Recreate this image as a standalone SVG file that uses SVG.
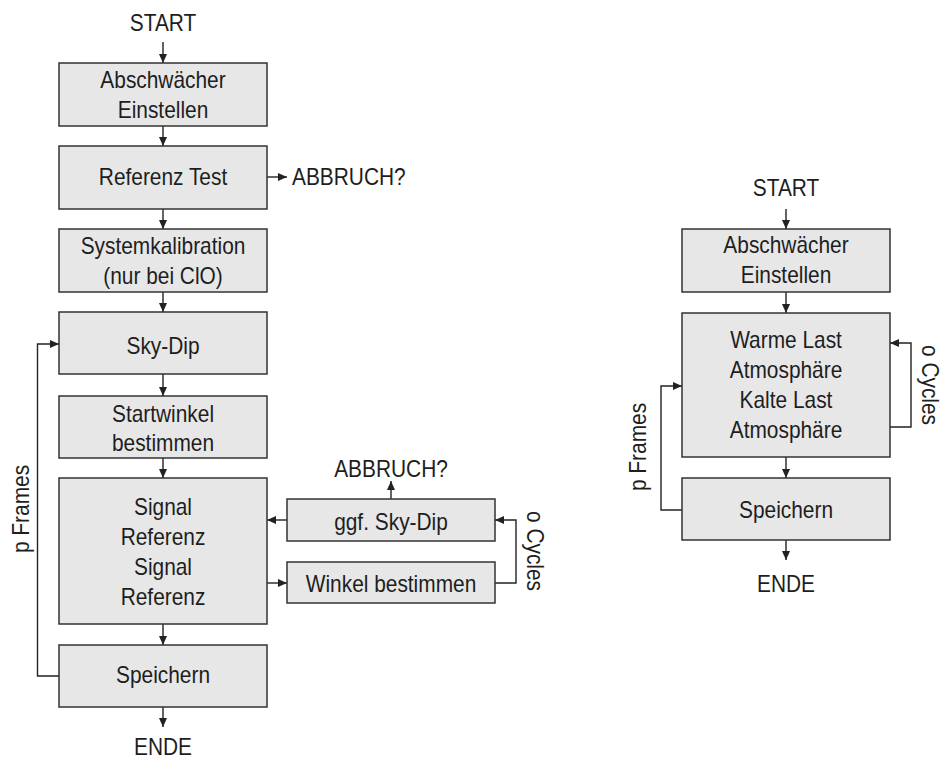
<svg xmlns="http://www.w3.org/2000/svg" width="942" height="760" viewBox="0 0 942 760">
<defs>
<style>
.box{fill:#e7e7e7;stroke:#333;stroke-width:1.5}
.ln{fill:none;stroke:#222;stroke-width:1.4}
text{font-family:"Liberation Sans",Arial,sans-serif;font-size:24px;fill:#1e1e1e;text-anchor:middle}
.st{text-anchor:start}
</style>
<marker id="ah" markerUnits="userSpaceOnUse" markerWidth="10" markerHeight="8" refX="9" refY="4" orient="auto">
<path d="M0,0 L9,4 L0,8 z" fill="#222"/>
</marker>
</defs>
<rect width="942" height="760" fill="#fff"/>

<g id="connectors">
<line class="ln" x1="163" y1="42" x2="163" y2="63" marker-end="url(#ah)"/>
<line class="ln" x1="163" y1="126" x2="163" y2="146" marker-end="url(#ah)"/>
<line class="ln" x1="267" y1="177" x2="287" y2="177" marker-end="url(#ah)"/>
<line class="ln" x1="163" y1="209" x2="163" y2="229" marker-end="url(#ah)"/>
<line class="ln" x1="163" y1="292" x2="163" y2="312" marker-end="url(#ah)"/>
<line class="ln" x1="163" y1="374" x2="163" y2="396" marker-end="url(#ah)"/>
<line class="ln" x1="163" y1="458" x2="163" y2="478" marker-end="url(#ah)"/>
<line class="ln" x1="163" y1="624" x2="163" y2="645" marker-end="url(#ah)"/>
<line class="ln" x1="163" y1="707" x2="163" y2="727" marker-end="url(#ah)"/>
<polyline class="ln" points="59,676 37.5,676 37.5,344 59,344" marker-end="url(#ah)"/>
<line class="ln" x1="287" y1="520" x2="267" y2="520" marker-end="url(#ah)"/>
<line class="ln" x1="267" y1="583" x2="287" y2="583" marker-end="url(#ah)"/>
<polyline class="ln" points="495,583 516,583 516,520 495,520" marker-end="url(#ah)"/>
<line class="ln" x1="391" y1="499" x2="391" y2="481" marker-end="url(#ah)"/>

<line class="ln" x1="786" y1="209" x2="786" y2="229" marker-end="url(#ah)"/>
<line class="ln" x1="786" y1="292" x2="786" y2="313" marker-end="url(#ah)"/>
<line class="ln" x1="786" y1="457" x2="786" y2="478" marker-end="url(#ah)"/>
<line class="ln" x1="786" y1="540" x2="786" y2="560" marker-end="url(#ah)"/>
<polyline class="ln" points="890,427 911,427 911,343 890,343" marker-end="url(#ah)"/>
<polyline class="ln" points="682,510 661,510 661,386 682,386" marker-end="url(#ah)"/>
</g>

<g id="labels">
<text transform="translate(163,31) scale(0.87,1)">START</text>
<text class="st" transform="translate(292,185) scale(0.87,1)">ABBRUCH?</text>
<text transform="translate(163,755) scale(0.87,1)">ENDE</text>
<text transform="translate(28.5,509) rotate(-90) scale(0.87,1)">p Frames</text>
<text transform="translate(391,477) scale(0.87,1)">ABBRUCH?</text>
<text transform="translate(527,551) rotate(90) scale(0.87,1)">o Cycles</text>
<text transform="translate(786,196) scale(0.87,1)">START</text>
<text transform="translate(786,592) scale(0.87,1)">ENDE</text>
<text transform="translate(646,447) rotate(-90) scale(0.87,1)">p Frames</text>
<text transform="translate(922,385) rotate(90) scale(0.87,1)">o Cycles</text>
</g>

<g id="l-abschwaecher">
<rect class="box" x="59" y="63" width="208" height="63"/>
<text transform="translate(163,88) scale(0.87,1)">Abschwächer</text>
<text transform="translate(163,118) scale(0.87,1)">Einstellen</text>
</g>
<g id="l-referenztest">
<rect class="box" x="59" y="146" width="208" height="63"/>
<text transform="translate(163,185) scale(0.87,1)">Referenz Test</text>
</g>
<g id="l-systemkalibration">
<rect class="box" x="59" y="229" width="208" height="63"/>
<text transform="translate(163,254) scale(0.87,1)">Systemkalibration</text>
<text transform="translate(163,284) scale(0.87,1)">(nur bei ClO)</text>
</g>
<g id="l-skydip">
<rect class="box" x="59" y="312" width="208" height="62"/>
<text transform="translate(163,354) scale(0.87,1)">Sky-Dip</text>
</g>
<g id="l-startwinkel">
<rect class="box" x="59" y="396" width="208" height="62"/>
<text transform="translate(163,422) scale(0.87,1)">Startwinkel</text>
<text transform="translate(163,451) scale(0.87,1)">bestimmen</text>
</g>
<g id="l-signal">
<rect class="box" x="59" y="478" width="208" height="146"/>
<text transform="translate(163,515) scale(0.87,1)">Signal</text>
<text transform="translate(163,545) scale(0.87,1)">Referenz</text>
<text transform="translate(163,575) scale(0.87,1)">Signal</text>
<text transform="translate(163,605) scale(0.87,1)">Referenz</text>
</g>
<g id="l-speichern">
<rect class="box" x="59" y="645" width="208" height="62"/>
<text transform="translate(163,683) scale(0.87,1)">Speichern</text>
</g>
<g id="l-ggfskydip">
<rect class="box" x="287" y="499" width="208" height="42"/>
<text transform="translate(391,530) scale(0.87,1)">ggf. Sky-Dip</text>
</g>
<g id="l-winkel">
<rect class="box" x="287" y="562" width="208" height="41"/>
<text transform="translate(391,592) scale(0.87,1)">Winkel bestimmen</text>
</g>

<g id="r-abschwaecher">
<rect class="box" x="682" y="229" width="208" height="63"/>
<text transform="translate(786,253) scale(0.87,1)">Abschwächer</text>
<text transform="translate(786,283) scale(0.87,1)">Einstellen</text>
</g>
<g id="r-messung">
<rect class="box" x="682" y="313" width="208" height="144"/>
<text transform="translate(786,348) scale(0.87,1)">Warme Last</text>
<text transform="translate(786,378) scale(0.87,1)">Atmosphäre</text>
<text transform="translate(786,408) scale(0.87,1)">Kalte Last</text>
<text transform="translate(786,438) scale(0.87,1)">Atmosphäre</text>
</g>
<g id="r-speichern">
<rect class="box" x="682" y="478" width="208" height="62"/>
<text transform="translate(786,518) scale(0.87,1)">Speichern</text>
</g>
</svg>
